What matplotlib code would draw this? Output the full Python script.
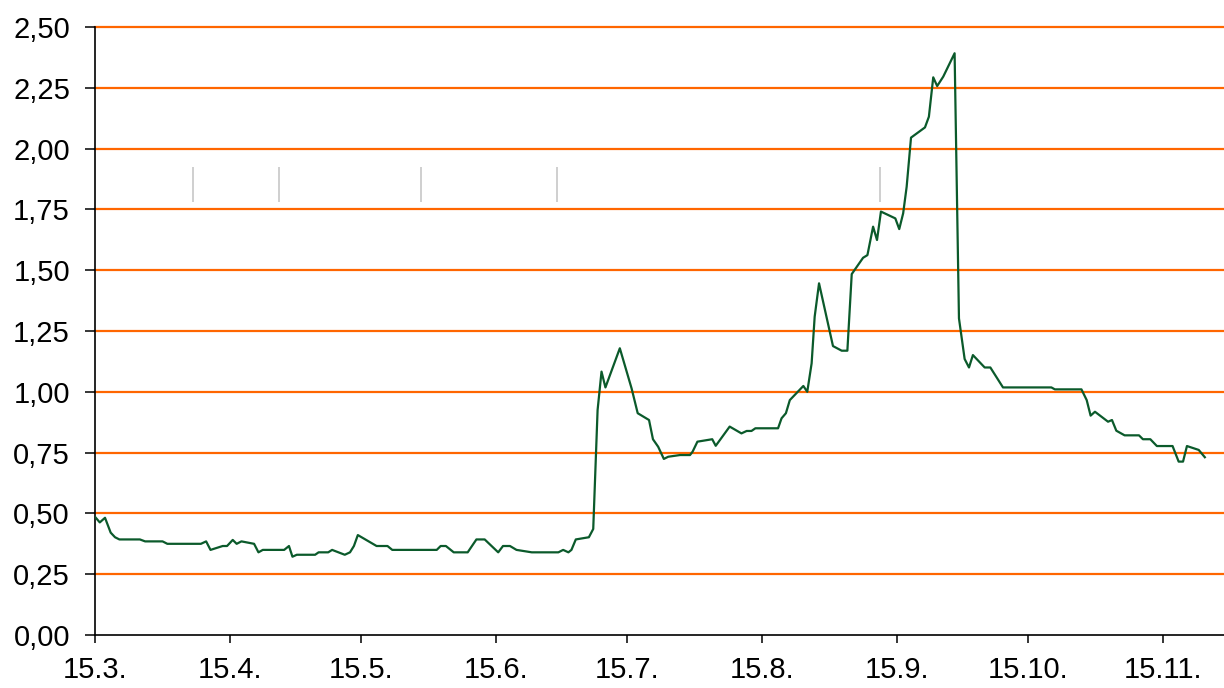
import matplotlib
matplotlib.use("Agg")
import matplotlib.pyplot as plt
from matplotlib.ticker import FuncFormatter

# days counted from 15.3.
days = [0.0, 1.1, 2.3, 3.6, 4.6, 5.6, 10.3, 11.5, 15.5, 16.6, 24.3, 25.5, 26.5,
        29.3, 30.3, 31.6, 32.5, 33.6, 36.5, 37.5, 38.5, 43.4, 44.5, 45.3, 46.3,
        50.5, 51.3, 53.5, 54.4, 57.3, 58.5, 59.4, 60.3, 64.6, 67.1, 68.2, 78.4,
        79.3, 80.5, 82.3, 85.5, 87.5, 89.4, 92.5, 93.6, 95.2, 96.7, 100.2, 106.3,
        107.4, 108.6, 109.3, 110.3, 113.3, 114.3, 115.3, 116.2, 117.1, 120.4,
        123.1, 124.5, 127.1, 128.0, 129.2, 130.5, 131.5, 134.2, 136.5, 137.1,
        138.2, 141.6, 142.4, 145.6, 148.3, 149.5, 150.6, 151.5, 156.7, 157.5,
        158.5, 159.4, 162.5, 163.4, 164.4, 165.1, 166.1, 169.3, 171.3, 172.6,
        173.6, 176.2, 177.2, 178.5, 179.4, 180.3, 183.6, 184.5, 185.4, 186.2,
        187.2, 190.4, 191.3, 192.3, 193.2, 194.6, 197.2, 198.2, 199.5, 200.5,
        201.4, 204.1, 205.4, 208.3, 219.4, 220.2, 226.3, 227.5, 228.4, 229.4,
        232.4, 233.3, 234.3, 236.2, 239.5, 240.4, 242.1, 243.6, 247.2, 248.6,
        249.6, 250.5, 253.2, 254.6]
values = [0.486, 0.463, 0.482, 0.421, 0.402, 0.393, 0.393, 0.385, 0.385, 0.375,
          0.375, 0.385, 0.350, 0.366, 0.366, 0.391, 0.375, 0.385, 0.375, 0.340,
          0.350, 0.350, 0.366, 0.322, 0.330, 0.330, 0.340, 0.340, 0.350, 0.330,
          0.340, 0.366, 0.411, 0.366, 0.366, 0.350, 0.350, 0.366, 0.366, 0.340,
          0.340, 0.393, 0.393, 0.340, 0.366, 0.366, 0.350, 0.340, 0.340, 0.350,
          0.340, 0.350, 0.393, 0.402, 0.436, 0.925, 1.083, 1.018, 1.179, 1.014,
          0.912, 0.884, 0.805, 0.774, 0.724, 0.733, 0.740, 0.740, 0.754, 0.795,
          0.805, 0.778, 0.857, 0.829, 0.839, 0.839, 0.850, 0.850, 0.891, 0.912,
          0.966, 1.024, 1.000, 1.117, 1.309, 1.446, 1.188, 1.169, 1.169, 1.484,
          1.551, 1.562, 1.679, 1.624, 1.741, 1.713, 1.669, 1.734, 1.843, 2.045,
          2.087, 2.131, 2.293, 2.257, 2.296, 2.392, 1.302, 1.135, 1.100, 1.151,
          1.100, 1.100, 1.018, 1.018, 1.010, 1.010, 0.966, 0.902, 0.918, 0.877,
          0.884, 0.840, 0.821, 0.821, 0.805, 0.805, 0.777, 0.777, 0.713, 0.713,
          0.777, 0.761, 0.731]

tick_days = [0, 31, 61, 92, 122, 153, 184, 214, 245]
tick_labels = ["15.3.", "15.4.", "15.5.", "15.6.", "15.7.", "15.8.",
               "15.9.", "15.10.", "15.11."]
y_ticks = [0.0, 0.25, 0.5, 0.75, 1.0, 1.25, 1.5, 1.75, 2.0, 2.25, 2.5]

# small grey markers
mark_days = [22.5, 42.2, 74.7, 105.9, 180.2]
mark_low = 1.782
mark_high = 1.926


def main():
    plt.rcParams['font.family'] = ['Liberation Sans', 'DejaVu Sans']
    fig = plt.figure(figsize=(12.24, 6.88), dpi=100)
    ax = fig.add_axes([0.0776, 0.077, 0.9224, 0.8838])

    for y in y_ticks[1:]:
        ax.axhline(y, color='#ff6600', lw=1.6, zorder=1, clip_on=False)

    ax.vlines(mark_days, mark_low, mark_high, color='#cfcfcf', lw=1.4, zorder=2)
    ax.plot(days, values, color='#0b5a2b', lw=1.6, zorder=3)

    ax.set_xlim(0, 259)
    ax.set_ylim(0, 2.5)
    ax.set_xticks(tick_days)
    ax.set_xticklabels(tick_labels)
    ax.set_yticks(y_ticks)
    ax.yaxis.set_major_formatter(FuncFormatter(lambda v, p: f"{v:.2f}".replace('.', ',')))

    ax.spines['top'].set_visible(False)
    ax.spines['right'].set_visible(False)
    ax.spines['left'].set_linewidth(1.2)
    ax.spines['bottom'].set_linewidth(1.2)
    ax.tick_params(axis='y', length=7, width=1.1, pad=11, labelsize=21)
    ax.tick_params(axis='x', length=6, width=1.1, pad=9, labelsize=21)

    fig.savefig("out.png", dpi=100)


if __name__ == "__main__":
    main()
